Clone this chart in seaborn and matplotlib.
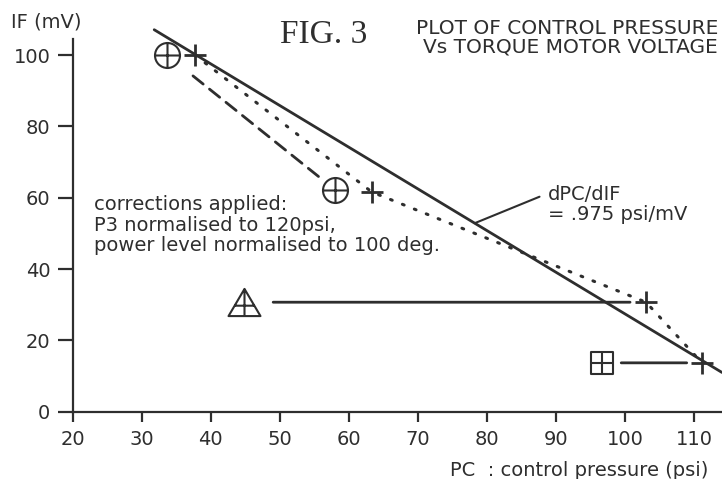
import numpy as np
import matplotlib
matplotlib.use("Agg")
import matplotlib.pyplot as plt
from matplotlib.path import Path
import seaborn as sns

# ---- data ----
fit_pc = [31.8, 114.0]          # solid line (dPC/dIF fit)
fit_if = [107.1, 11.0]
plus_pc = [37.7, 63.3, 103.0, 111.1]   # "+" points, joined by dotted line
plus_if = [100.0, 61.6, 30.7, 13.7]
circle_pc = [33.65, 58.0]       # circle-plus points, joined by dashed line
circle_if = [100.0, 62.2]
tri_pc = [44.8]                 # triangle point
tri_if = [30.7]
sq_pc = [96.6]                  # square point
sq_if = [13.7]
x_ticks = [20, 30, 40, 50, 60, 70, 80, 90, 100, 110]
y_ticks = [0, 20, 40, 60, 80, 100]

INK = "#2e2e2e"

sns.set_style("ticks")
plt.rcParams["font.family"] = ["DejaVu Sans"]
plt.rcParams["text.color"] = INK

fig = plt.figure(figsize=(7.22, 4.79), dpi=100)
ax = fig.add_axes([72.7 / 722, (479 - 411.7) / 479, (722 - 72.7) / 722, (411.7 - 39) / 479])

# solid fit line
sns.lineplot(x=fit_pc, y=fit_if, ax=ax, color=INK, lw=2.0, estimator=None,
             sort=False, clip_on=False, zorder=2)
# dotted line through + points
sns.lineplot(x=plus_pc, y=plus_if, ax=ax, color=INK, lw=2.2, estimator=None,
             sort=False, linestyle=(0, (0.6, 3.6)), dash_capstyle="round",
             clip_on=False, zorder=2)


def connector(p0, p1, sa, sb, ls="-"):
    ax.annotate("", xy=p1, xytext=p0, annotation_clip=False,
                arrowprops=dict(arrowstyle="-", color=INK, lw=2.0, linestyle=ls,
                                shrinkA=sa, shrinkB=sb))


# dashed line between circle-plus points
connector((circle_pc[0], circle_if[0]), (circle_pc[1], circle_if[1]), 24, 13,
          ls=(0, (4.7, 2.9)))
# horizontal connectors
connector((tri_pc[0], tri_if[0]), (plus_pc[2], plus_if[2]), 21, 11.5)
connector((sq_pc[0], sq_if[0]), (plus_pc[3], plus_if[3]), 14, 11)

# ---- custom markers ----
circle_plus = Path.make_compound_path(
    Path.unit_circle(), Path([(-1, 0), (1, 0)]), Path([(0, -1), (0, 1)]))
tri_plus = Path.make_compound_path(
    Path([(-1, -0.85), (1, -0.85), (0, 0.85), (-1, -0.85)],
         [Path.MOVETO, Path.LINETO, Path.LINETO, Path.CLOSEPOLY]),
    Path([(0, 0.85), (0, -0.85)]),
    Path([(-0.618, -0.2), (0.618, -0.2)]))
sq_plus = Path.make_compound_path(
    Path([(-1, -1), (1, -1), (1, 1), (-1, 1), (-1, -1)],
         [Path.MOVETO, Path.LINETO, Path.LINETO, Path.LINETO, Path.CLOSEPOLY]),
    Path([(-1, 0), (1, 0)]), Path([(0, -1), (0, 1)]))

sns.scatterplot(x=circle_pc, y=circle_if, ax=ax, marker=circle_plus, s=18 ** 2,
                color="white", edgecolor=INK, linewidth=1.5, zorder=5, clip_on=False)
sns.scatterplot(x=tri_pc, y=tri_if, ax=ax, marker=tri_plus, s=23 ** 2,
                color="white", edgecolor=INK, linewidth=1.5, zorder=5, clip_on=False)
sns.scatterplot(x=sq_pc, y=sq_if, ax=ax, marker=sq_plus, s=16 ** 2,
                color="white", edgecolor=INK, linewidth=1.5, zorder=5, clip_on=False)
ax.scatter(plus_pc, plus_if, marker="+", s=16 ** 2, color=INK, linewidths=2.0,
           zorder=6, clip_on=False)

# ---- axes ----
ax.set_xlim(20, 114)
ax.set_ylim(0, 104.5)
ax.set_xticks(x_ticks)
ax.set_yticks(y_ticks)
ax.set_xlabel("")
ax.set_ylabel("")
for s in ("top", "right"):
    ax.spines[s].set_visible(False)
for s in ("left", "bottom"):
    ax.spines[s].set_linewidth(1.6)
    ax.spines[s].set_color(INK)
ax.tick_params(axis="y", direction="out", length=11, width=1.6, pad=5,
               labelsize=14, color=INK, labelcolor=INK)
ax.tick_params(axis="x", direction="out", length=7, width=1.6, pad=6,
               labelsize=14, color=INK, labelcolor=INK)

# ---- texts ----
fig.text(11 / 722, 1 - 22 / 479, "IF (mV)", fontsize=14, ha="left", va="center")
fig.text(708 / 722, 1 - 471 / 479, "PC  : control pressure (psi)", fontsize=14,
         ha="right", va="center")
fig.text(280 / 722, 1 - 43 / 479, "FIG. 3", fontsize=24,
         family=["Liberation Serif", "DejaVu Serif"], ha="left", va="baseline")
fig.text(718 / 722, 1 - 28 / 479, "PLOT OF CONTROL PRESSURE", fontsize=14.5,
         ha="right", va="center")
fig.text(718 / 722, 1 - 47 / 479, "Vs TORQUE MOTOR VOLTAGE", fontsize=14.5,
         ha="right", va="center")

ax.text(23.1, 52.3, "corrections applied:\nP3 normalised to 120psi,\n"
        "power level normalised to 100 deg.", fontsize=14, ha="left",
        va="center", linespacing=1.1)

leader_pc = 78.2
leader_if = float(np.interp(leader_pc, fit_pc, fit_if))
ax.annotate("dPC/dIF\n= .975 psi/mV", xy=(leader_pc, leader_if), xytext=(88.8, 58.2),
            fontsize=14, ha="left", va="center", linespacing=1.05,
            annotation_clip=False,
            arrowprops=dict(arrowstyle="-", color=INK, lw=1.5,
                            relpos=(0, 0.78), shrinkA=4, shrinkB=0))

fig.savefig("out.png", dpi=100)
